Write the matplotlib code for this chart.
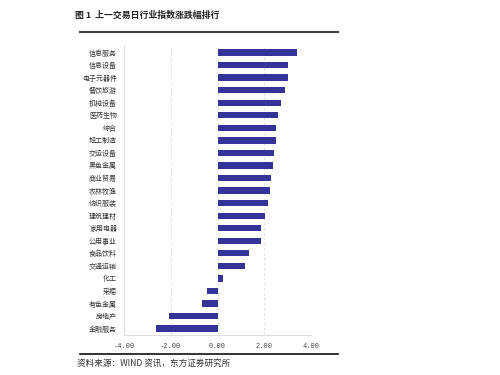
import matplotlib
matplotlib.use('Agg')
import matplotlib.pyplot as plt
from matplotlib.lines import Line2D

plt.rcParams['font.family'] = ['Noto Sans CJK SC', 'DejaVu Sans']

# 行业名称 (从上到下)
hangye = ['信息服务', '信息设备', '电子元器件', '餐饮旅游', '机械设备', '医药生物',
          '综合', '轻工制造', '交运设备', '黑色金属', '商业贸易', '农林牧渔',
          '纺织服装', '建筑建材', '家用电器', '公用事业', '食品饮料', '交通运输',
          '化工', '采掘', '有色金属', '房地产', '金融服务']
# 涨跌幅 (%)
zhangdie = [3.39, 3.01, 3.00, 2.88, 2.70, 2.60,
            2.50, 2.49, 2.42, 2.39, 2.31, 2.25,
            2.14, 2.05, 1.88, 1.87, 1.33, 1.16,
            0.24, -0.43, -0.67, -2.08, -2.61]
x_ticks = [-4, -2, 0, 2, 4]
x_ticklabels = ['-4.00', '-2.00', '0.00', '2.00', '4.00']

fig = plt.figure(figsize=(5, 3.75), dpi=100)
ax = fig.add_axes([0.248, 0.107, 0.374, 0.773])

pos = list(range(len(hangye)))
ax.barh(pos, zhangdie, height=0.5, color='#333399', zorder=3)

ax.set_xlim(-4, 4)
ax.set_ylim(22.5, -0.6)
ax.set_yticks(pos)
ax.set_yticklabels(hangye, fontsize=5, color='#333333')
ax.set_xticks(x_ticks)
ax.set_xticklabels(x_ticklabels, fontsize=5, color='#444444', family='Liberation Mono')
ax.tick_params(axis='y', length=0, pad=5)
ax.tick_params(axis='x', length=0, pad=6)

# 网格虚线
ax.grid(axis='x', linestyle=(0, (3, 3)), color='#d8d8d8', linewidth=0.6, zorder=0)
for s in ['top', 'right']:
    ax.spines[s].set_visible(False)
for s in ['left', 'bottom']:
    ax.spines[s].set_color('#dddddd')
    ax.spines[s].set_linewidth(0.7)

# 标题和来源
fig.text(0.15, 0.96, '图 1  上一交易日行业指数涨跌幅排行', fontsize=6.4,
         fontweight='bold', va='center', ha='left', color='#222222')
fig.add_artist(Line2D([0.16, 0.675], [1 - 32/375, 1 - 32/375], color='#444444',
                      linewidth=1.5, transform=fig.transFigure))
fig.add_artist(Line2D([0.16, 0.675], [1 - 354/375, 1 - 354/375], color='#111111',
                      linewidth=1.2, transform=fig.transFigure))
fig.text(0.154, 1 - 363/375, '资料来源：WIND 资讯，东方证券研究所', fontsize=6.2,
         va='center', ha='left', color='#333333')

fig.savefig('out.png', dpi=100)
